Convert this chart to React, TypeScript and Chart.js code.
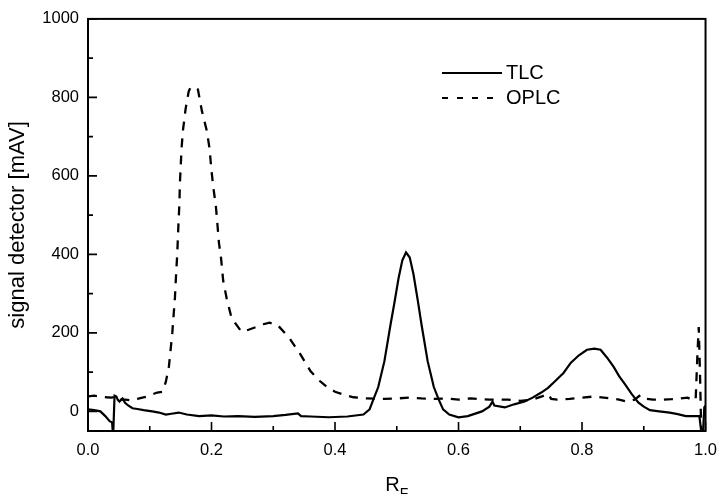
import React, { useEffect, useRef } from "react";
import { Chart, registerables } from "chart.js";

Chart.register(...registerables);

const tlcX = [
  0.0, 0.01, 0.02, 0.028, 0.035, 0.039, 0.04, 0.041, 0.043, 0.046, 0.048, 0.051, 0.054, 0.056, 0.06, 0.065,
  0.072, 0.08, 0.09, 0.104, 0.115, 0.126, 0.135, 0.147, 0.16, 0.18, 0.2, 0.22, 0.243, 0.27, 0.3, 0.32,
  0.34, 0.345, 0.36, 0.39, 0.42, 0.446, 0.456, 0.462, 0.47, 0.48, 0.49, 0.496, 0.503, 0.509, 0.515, 0.521,
  0.527, 0.534, 0.54, 0.55, 0.56, 0.568, 0.575, 0.585, 0.6, 0.615, 0.638, 0.65, 0.655, 0.658, 0.675, 0.69,
  0.707, 0.72, 0.734, 0.745, 0.755, 0.77, 0.782, 0.795, 0.808, 0.82, 0.83, 0.84, 0.851, 0.86, 0.87, 0.88,
  0.891, 0.9, 0.91, 0.925, 0.942, 0.955, 0.968, 0.98, 0.99, 0.993, 0.996, 0.998, 1.0,
];
const tlcY = [
  5, 3, 0, -12, -25, -28, -50, -50, 40, 38, 30, 25, 30, 33, 22, 15,
  8, 6, 3, 0, -3, -8, -6, -3, -8, -12, -10, -13, -12, -14, -12, -9,
  -5, -12, -13, -15, -13, -8, 5, 30, 62, 128, 222, 275, 340, 385, 405, 392,
  350, 283, 222, 128, 62, 30, 5, -8, -15, -12, 0, 12, 25, 15, 10, 18,
  25, 35, 48, 60, 75, 98, 124, 143, 157, 160, 157, 138, 114, 90, 68, 45,
  23, 12, 3, 0, -3, -7, -12, -12, -12, -50, -50, 10, 15,
];

const oplcX = [
  0.0, 0.01, 0.02, 0.03, 0.038, 0.045, 0.05, 0.06, 0.07, 0.08, 0.088, 0.096, 0.104, 0.112, 0.1205, 0.126,
  0.131, 0.1365, 0.1408, 0.143, 0.1445, 0.146, 0.148, 0.1488, 0.15, 0.1515, 0.154, 0.158, 0.163, 0.166, 0.171,
  0.178, 0.1845, 0.1925, 0.197, 0.1995, 0.203, 0.207, 0.2095, 0.212, 0.2155, 0.219, 0.2245, 0.2325, 0.2485,
  0.26, 0.2725, 0.284, 0.294, 0.307, 0.326, 0.3445, 0.3605, 0.375, 0.387, 0.4, 0.415, 0.43, 0.45, 0.48, 0.5,
  0.52, 0.54, 0.56, 0.58, 0.6, 0.62, 0.65, 0.68, 0.7, 0.72, 0.735, 0.745, 0.75, 0.76, 0.78, 0.8, 0.82, 0.835,
  0.846, 0.86, 0.872, 0.885, 0.895, 0.905, 0.915, 0.93, 0.945, 0.96, 0.971, 0.98, 0.984, 0.987, 0.989, 0.991,
  0.993,
];
const oplcY = [
  38, 40, 38, 36, 35, 38, 30, 30, 28, 32, 35, 38, 43, 48, 50, 75,
  114, 200, 291, 360, 400, 460, 529, 580, 620, 671, 719, 770, 815, 825, 827,
  820, 765, 714, 668, 620, 570, 524, 478, 430, 390, 332, 288, 238, 203,
  208, 215, 222, 226, 220, 187, 144, 102, 78, 62, 50, 42, 36, 33, 32, 33,
  35, 33, 32, 33, 30, 33, 30, 30, 27, 30, 38, 45, 32, 30, 32, 35, 38, 35,
  33, 30, 25, 30, 42, 32, 30, 30, 31, 33, 35, 28, 30, 150, 215, 100,
  -50,
];

const seriesNames = ["TLC", "OPLC"];
const xTicks = [0, 0.2, 0.4, 0.6, 0.8, 1.0];
const xTickLabels = ["0.0", "0.2", "0.4", "0.6", "0.8", "1.0"];
const xMinorTicks = [0.1, 0.3, 0.5, 0.7, 0.9];
const yTicks = [0, 200, 400, 600, 800, 1000];
const yTickLabels = ["0", "200", "400", "600", "800", "1000"];
const yMinorTicks = [100, 300, 500, 700, 900];
const xTitleMain = "R";
const xTitleSub = "F";
const yTitle = "signal detector [mAV]";

const FONT = '"Liberation Sans", Arial, sans-serif';

const framePlugin = {
  id: "frame",
  afterDraw(chart: any) {
    const { ctx, chartArea: a, scales } = chart;
    const xs = scales.x;
    const ys = scales.y;
    ctx.save();
    ctx.strokeStyle = "#000";
    ctx.lineWidth = 2;
    ctx.strokeRect(a.left, a.top, a.right - a.left, a.bottom - a.top);
    ctx.lineWidth = 1.6;
    ctx.beginPath();
    xTicks.forEach((v) => {
      const px = xs.getPixelForValue(v);
      ctx.moveTo(px, a.bottom);
      ctx.lineTo(px, a.bottom - 9);
    });
    xMinorTicks.forEach((v) => {
      const px = xs.getPixelForValue(v);
      ctx.moveTo(px, a.bottom);
      ctx.lineTo(px, a.bottom - 5);
    });
    yTicks.forEach((v) => {
      const py = ys.getPixelForValue(v);
      ctx.moveTo(a.left, py);
      ctx.lineTo(a.left + 9, py);
    });
    yMinorTicks.forEach((v) => {
      const py = ys.getPixelForValue(v);
      ctx.moveTo(a.left, py);
      ctx.lineTo(a.left + 5, py);
    });
    ctx.stroke();

    // x axis title with subscript
    ctx.fillStyle = "#000";
    ctx.textBaseline = "alphabetic";
    ctx.font = `20px ${FONT}`;
    const wMain = ctx.measureText(xTitleMain).width;
    ctx.font = `14px ${FONT}`;
    const wSub = ctx.measureText(xTitleSub).width;
    const cx = (a.left + a.right) / 2;
    const start = cx - (wMain + wSub) / 2;
    ctx.font = `20px ${FONT}`;
    ctx.fillText(xTitleMain, start, a.bottom + 60);
    ctx.font = `14px ${FONT}`;
    ctx.fillText(xTitleSub, start + wMain, a.bottom + 67);

    // legend
    const lx0 = a.left + 354;
    const lx1 = a.left + 414;
    const ly = [a.top + 54, a.top + 79];
    ctx.font = `20px ${FONT}`;
    ctx.textBaseline = "middle";
    seriesNames.forEach((name, i) => {
      ctx.lineWidth = 2;
      ctx.setLineDash(i === 0 ? [] : [6, 9]);
      ctx.beginPath();
      ctx.moveTo(lx0, ly[i]);
      ctx.lineTo(lx1, ly[i]);
      ctx.stroke();
      ctx.setLineDash([]);
      ctx.fillText(name, lx1 + 4, ly[i] + 1);
    });
    ctx.restore();
  },
};

export default function App() {
  const ref = useRef<HTMLCanvasElement>(null);
  useEffect(() => {
    if (!ref.current) return;
    const chart = new Chart(ref.current, {
      type: "line",
      data: {
        datasets: [
          {
            label: seriesNames[0],
            data: tlcX.map((x, i) => ({ x, y: tlcY[i] })),
            borderColor: "#000",
            borderWidth: 2.2,
            pointRadius: 0,
            tension: 0,
            fill: false,
          },
          {
            label: seriesNames[1],
            data: oplcX.map((x, i) => ({ x, y: oplcY[i] })),
            borderColor: "#000",
            borderWidth: 2.3,
            borderDash: [9, 8],
            pointRadius: 0,
            tension: 0,
            fill: false,
          },
        ],
      },
      options: {
        animation: false,
        responsive: false,
        layout: { padding: { left: 0, top: 17, right: 14, bottom: 0 } },
        plugins: { legend: { display: false }, tooltip: { enabled: false } },
        scales: {
          x: {
            type: "linear",
            min: 0,
            max: 1,
            grid: { display: false, drawTicks: false },
            border: { display: false },
            afterBuildTicks: (s: any) => {
              s.ticks = xTicks.map((v) => ({ value: v }));
            },
            afterFit: (s: any) => {
              s.height = 63;
            },
            ticks: {
              padding: 10,
              maxRotation: 0,
              autoSkip: false,
              color: "#000",
              font: { family: FONT, size: 16.5 },
              callback: (v: any) => xTickLabels[xTicks.findIndex((t) => Math.abs(t - v) < 1e-9)] ?? "",
            },
          },
          y: {
            type: "linear",
            min: -50,
            max: 1000,
            grid: { display: false, drawTicks: false },
            border: { display: false },
            afterBuildTicks: (s: any) => {
              s.ticks = yTicks.map((v) => ({ value: v }));
            },
            afterFit: (s: any) => {
              s.width = 88;
            },
            title: {
              display: true,
              text: yTitle,
              color: "#000",
              font: { family: FONT, size: 22 },
              padding: { top: 5, bottom: 0 },
            },
            ticks: {
              padding: 9,
              autoSkip: false,
              color: "#000",
              font: { family: FONT, size: 16.5 },
              callback: (v: any) => yTickLabels[yTicks.indexOf(v)] ?? "",
            },
          },
        },
      },
      plugins: [framePlugin],
    });
    return () => chart.destroy();
  }, []);
  return (
    <div style={{ position: "absolute", left: 0, top: 0, width: 727, height: 494, background: "#fff" }}>
      <canvas ref={ref} width={727} height={494} style={{ display: "block" }} />
    </div>
  );
}
